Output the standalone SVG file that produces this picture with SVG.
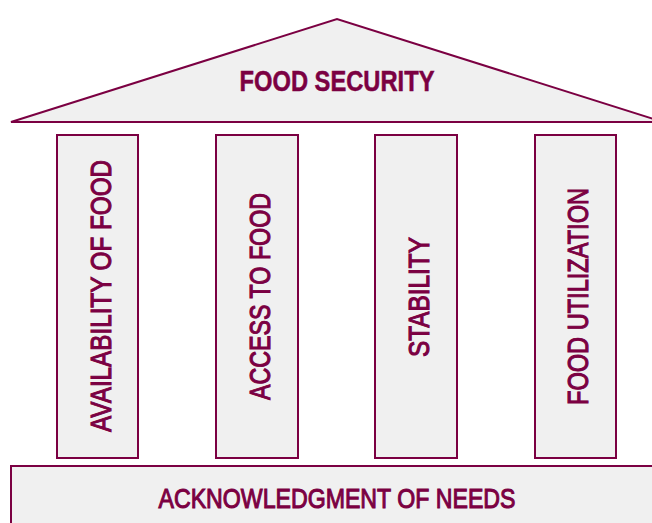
<svg xmlns="http://www.w3.org/2000/svg" width="652" height="523" viewBox="0 0 652 523">
<style>
.shape{fill:#f0f0f0;stroke:#7b0042;stroke-width:2}
.t{font-family:"Liberation Sans",Arial,sans-serif;fill:#7b0042;text-anchor:middle}
.b{font-weight:bold;font-size:29px;stroke:#7b0042;stroke-width:0.5}
.m{font-weight:normal;font-size:30px;stroke:#7b0042;stroke-width:1.1}
.n{font-weight:normal;font-size:28.5px;stroke:#7b0042;stroke-width:1.1}
</style>
<rect width="652" height="523" fill="#ffffff"/>
<g id="roof">
<path class="shape" d="M11,122 L337,19 L663,122 Z" stroke-width="2.5"/>
<text class="t b" x="337" y="91" textLength="195" lengthAdjust="spacingAndGlyphs">FOOD SECURITY</text>
</g>
<g id="pillar-availability">
<rect class="shape" x="57" y="135" width="81" height="323"/>
<text class="t m" transform="translate(111,296) rotate(-90)" textLength="272" lengthAdjust="spacingAndGlyphs">AVAILABILITY OF FOOD</text>
</g>
<g id="pillar-access">
<rect class="shape" x="216" y="135" width="82" height="323"/>
<text class="t m" transform="translate(270,296.5) rotate(-90)" textLength="207" lengthAdjust="spacingAndGlyphs">ACCESS TO FOOD</text>
</g>
<g id="pillar-stability">
<rect class="shape" x="375" y="135" width="82" height="323"/>
<text class="t m" transform="translate(429,297) rotate(-90)" textLength="120" lengthAdjust="spacingAndGlyphs">STABILITY</text>
</g>
<g id="pillar-utilization">
<rect class="shape" x="535" y="135" width="81" height="323"/>
<text class="t m" transform="translate(588,296.5) rotate(-90)" textLength="217" lengthAdjust="spacingAndGlyphs">FOOD UTILIZATION</text>
</g>
<g id="base">
<rect class="shape" x="11" y="466" width="660" height="80"/>
<text class="t n" x="337" y="507.5" textLength="357" lengthAdjust="spacingAndGlyphs">ACKNOWLEDGMENT OF NEEDS</text>
</g>
<g id="connectors"/>
</svg>
